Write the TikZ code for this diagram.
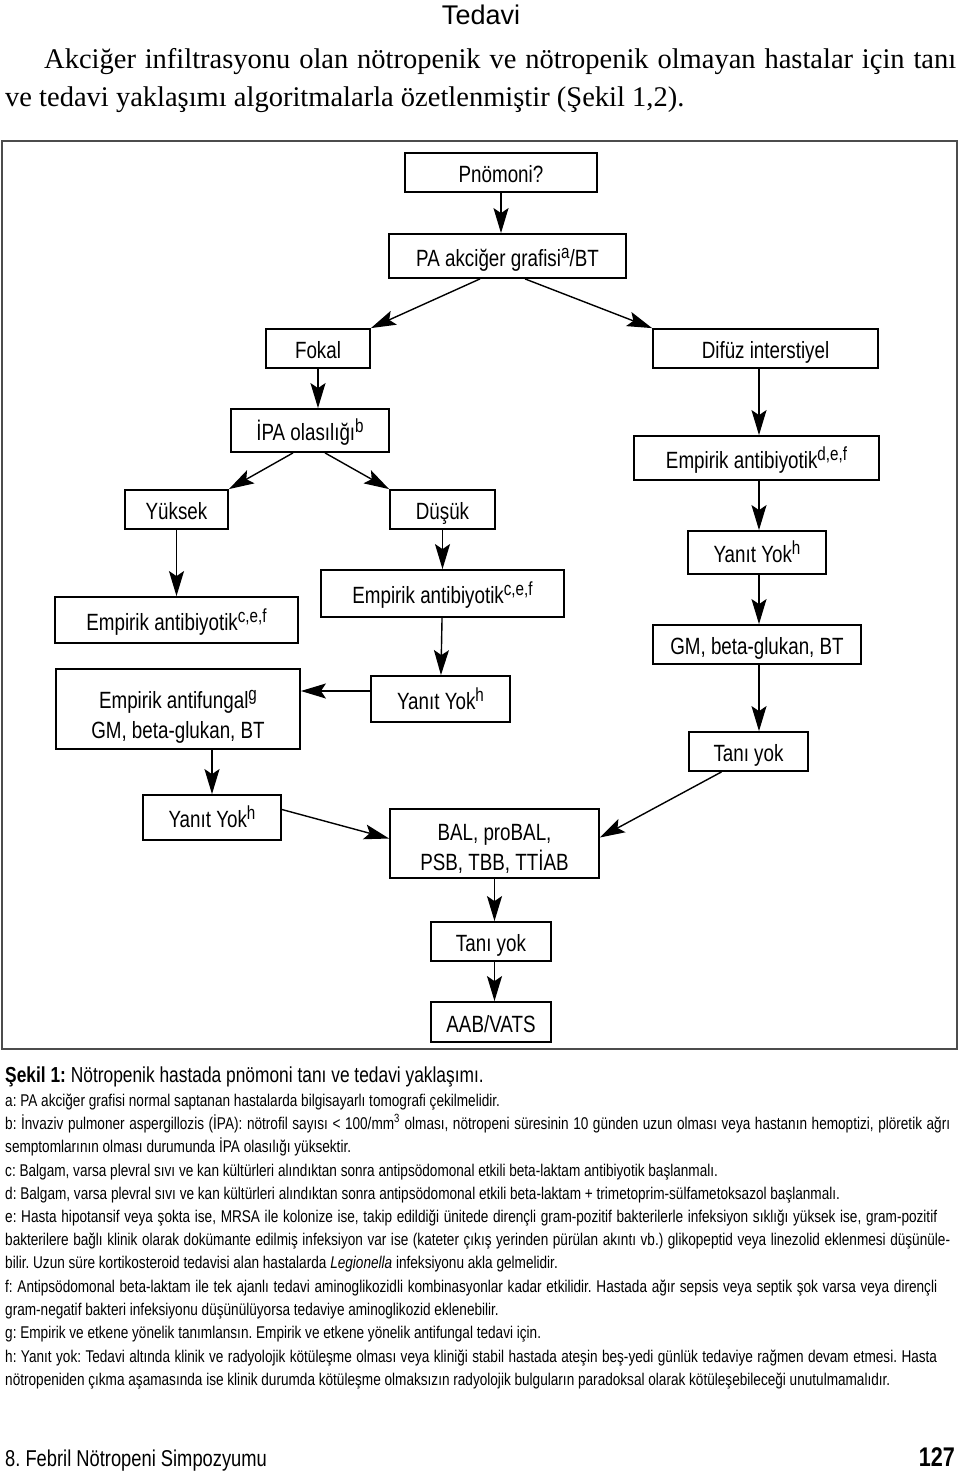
\documentclass[tikz,border=0pt]{standalone}
\usepackage{fontspec}
\setmainfont{Liberation Serif}
\newfontfamily\plainsans{Liberation Sans}
\newfontfamily\condsans[FakeStretch=0.8]{Liberation Sans}
\usetikzlibrary{arrows.meta}
\tikzset{box/.style = {draw, line width=1.8pt, inner sep=0pt, minimum height=39pt, align=center,
                       text height=24pt, text depth=4pt,
                       font=\condsans\fontsize{23.5}{30}\selectfont}}
\tikzset{flow/.style = {line width=1.4pt, -{Stealth[length=25pt, width=15pt, inset=5pt]}}}
\tikzset{txt/.style = {anchor=base west, inner sep=0pt, font=\condsans\fontsize{17}{20}\selectfont}}
\newcommand{\jline}[2]{\hbox to #1{#2}}
\newcommand{\upidx}[1]{\raisebox{8pt}{\fontsize{19}{19}\selectfont #1}}
\frenchspacing

\begin{document}
\begin{tikzpicture}[x=1pt, y=-1pt]
  \useasboundingbox (0,0) rectangle (960,1473);

  % page head
  \node [anchor=base, inner sep=0pt, font=\plainsans\fontsize{27}{32}\selectfont] (head) at (481,24) {Tedavi};
  \node [anchor=base west, inner sep=0pt, font=\fontsize{28.5}{34}\selectfont] (par1) at (44,68)
        {\jline{912pt}{Akciğer infiltrasyonu olan nötropenik ve nötropenik olmayan hastalar için tanı}};
  \node [anchor=base west, inner sep=0pt, font=\fontsize{28.5}{34}\selectfont] (par2) at (5,106)
        {ve tedavi yaklaşımı algoritmalarla özetlenmiştir (Şekil 1,2).};

  % frame
  \draw [line width=1.6pt, black!70] (2,141) rectangle (957,1049);

  % boxes
  \node [box, minimum width=192] (pnomoni) at (501,172.5) {Pnömoni?};
  \node [box, minimum width=237, minimum height=44] (pa) at (507.5,256) {PA akciğer grafisi\upidx{a}/BT};
  \node [box, minimum width=104] (fokal) at (318,348.5) {Fokal};
  \node [box, minimum width=225] (difuz) at (765.5,348.5) {Difüz interstiyel};
  \node [box, minimum width=158, minimum height=43] (ipa) at (310,430.5) {İPA olasılığı\upidx{b}};
  \node [box, minimum width=245, minimum height=44] (empR) at (756.5,458) {Empirik antibiyotik\upidx{d,e,f}};
  \node [box, minimum width=103] (yuksek) at (176.5,509.5) {Yüksek};
  \node [box, minimum width=105] (dusuk) at (442.5,509.5) {Düşük};
  \node [box, minimum width=243, minimum height=46] (empL) at (176.5,620) {Empirik antibiyotik\upidx{c,e,f}};
  \node [box, minimum width=243, minimum height=47] (empM) at (442.5,593.5) {Empirik antibiyotik\upidx{c,e,f}};
  \node [box, minimum width=138, minimum height=43] (yanitR) at (757,552.5) {Yanıt Yok\upidx{h}};
  \node [box, minimum width=208] (gmR) at (757,644.5) {GM, beta-glukan, BT};
  \node [box, minimum width=244, minimum height=80, text height=62pt] (antifungal) at (178,709)
        {Empirik antifungal\upidx{g}\\GM, beta-glukan, BT};
  \node [box, minimum width=139, minimum height=46] (yanitM) at (440.5,699) {Yanıt Yok\upidx{h}};
  \node [box, minimum width=119] (taniR) at (748.5,751.5) {Tanı yok};
  \node [box, minimum width=138, minimum height=45] (yanitL) at (212,817.5) {Yanıt Yok\upidx{h}};
  \node [box, minimum width=209, minimum height=69, text height=57pt] (bal) at (494.5,843.5)
        {BAL, proBAL,\\PSB, TBB, TTİAB};
  \node [box, minimum width=120] (taniM) at (491,941.5) {Tanı yok};
  \node [box, minimum width=120, minimum height=40] (aab) at (491,1022) {AAB/VATS};

  \coordinate (rcol) at (759,0);

  % connectors
  \draw [flow] (pnomoni) -- (pnomoni.south |- pa.north);
  \draw [flow] ([xshift=-27.5]pa.south) -- (fokal.north east);
  \draw [flow] ([xshift=17.5]pa.south) -- (difuz.north west);
  \draw [flow] (fokal.south) -- (fokal.south |- ipa.north);
  \draw [flow] ([xshift=-17]ipa.south) -- (yuksek.north east);
  \draw [flow] ([xshift=15]ipa.south) -- (dusuk.north west);
  \draw [flow] (yuksek) -- (empL);
  \draw [flow] (dusuk) -- (empM);
  \draw [flow] (empM) -- (yanitM);
  \draw [flow] ([yshift=8]yanitM.west) -- ([yshift=8]yanitM.west -| antifungal.east);
  \draw [flow] (antifungal.south -| yanitL.north) -- (yanitL.north);
  \draw [flow] ([yshift=8]yanitL.east) -- ([yshift=5]bal.west);
  \draw [flow] (difuz.south -| rcol) -- (empR.north -| rcol);
  \draw [flow] (empR.south -| rcol) -- (yanitR.north -| rcol);
  \draw [flow] (yanitR.south -| rcol) -- (gmR.north -| rcol);
  \draw [flow] (gmR.south -| rcol) -- (taniR.north -| rcol);
  \draw [flow] ([xshift=-27]taniR.south) -- ([yshift=6]bal.east);
  \draw [flow] (bal.south) -- (bal.south |- taniM.north);
  \draw [flow] (taniM.south -| bal.south) -- (bal.south |- aab.north);

  % caption and notes
  \node [txt, font=\condsans\fontsize{21.7}{25}\selectfont] (cap) at (5,1082)
        {\textbf{Şekil 1:} Nötropenik hastada pnömoni tanı ve tedavi yaklaşımı.};
  \node [txt] (na) at (5,1106) {a: PA akciğer grafisi normal saptanan hastalarda bilgisayarlı tomografi çekilmelidir.};
  \node [txt] (nb1) at (5,1129)
        {\jline{945pt}{b: İnvaziv pulmoner aspergillozis (İPA): nötrofil sayısı < 100/mm\textsuperscript{3} olması, nötropeni süresinin 10 günden uzun olması veya hastanın hemoptizi, plöretik ağrı}};
  \node [txt] (nb2) at (5,1152) {semptomlarının olması durumunda İPA olasılığı yüksektir.};
  \node [txt] (nc) at (5,1176) {c: Balgam, varsa plevral sıvı ve kan kültürleri alındıktan sonra antipsödomonal etkili beta-laktam antibiyotik başlanmalı.};
  \node [txt] (nd) at (5,1199) {d: Balgam, varsa plevral sıvı ve kan kültürleri alındıktan sonra antipsödomonal etkili beta-laktam + trimetoprim-sülfametoksazol başlanmalı.};
  \node [txt] (ne1) at (5,1222)
        {\jline{932pt}{e: Hasta hipotansif veya şokta ise, MRSA ile kolonize ise, takip edildiği ünitede dirençli gram-pozitif bakterilerle infeksiyon sıklığı yüksek ise, gram-pozitif}};
  \node [txt] (ne2) at (5,1245)
        {\jline{945pt}{bakterilere bağlı klinik olarak dokümante edilmiş infeksiyon var ise (kateter çıkış yerinden pürülan akıntı vb.) glikopeptid veya linezolid eklenmesi düşünüle-}};
  \node [txt] (ne3) at (5,1268) {bilir. Uzun süre kortikosteroid tedavisi alan hastalarda \textit{Legionella} infeksiyonu akla gelmelidir.};
  \node [txt] (nf1) at (5,1292)
        {\jline{932pt}{f: Antipsödomonal beta-laktam ile tek ajanlı tedavi aminoglikozidli kombinasyonlar kadar etkilidir. Hastada ağır sepsis veya septik şok varsa veya dirençli}};
  \node [txt] (nf2) at (5,1315) {gram-negatif bakteri infeksiyonu düşünülüyorsa tedaviye aminoglikozid eklenebilir.};
  \node [txt] (ng) at (5,1338) {g: Empirik ve etkene yönelik tanımlansın. Empirik ve etkene yönelik antifungal tedavi için.};
  \node [txt] (nh1) at (5,1362)
        {\jline{932pt}{h: Yanıt yok: Tedavi altında klinik ve radyolojik kötüleşme olması veya kliniği stabil hastada ateşin beş-yedi günlük tedaviye rağmen devam etmesi. Hasta}};
  \node [txt] (nh2) at (5,1385) {nötropeniden çıkma aşamasında ise klinik durumda kötüleşme olmaksızın radyolojik bulguların paradoksal olarak kötüleşebileceği unutulmamalıdır.};

  % page foot
  \node [txt, font=\condsans\fontsize{22.9}{26}\selectfont] (foot) at (5,1466) {8. Febril Nötropeni Simpozyumu};
  \node [txt, anchor=base east, font=\condsans\bfseries\fontsize{27}{30}\selectfont] (pageno) at (955,1466) {127};
\end{tikzpicture}
\end{document}
